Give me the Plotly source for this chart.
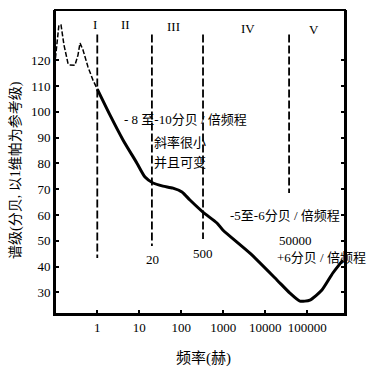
import plotly.graph_objects as go

# ---------------- data ----------------
curve_low_freq = [0.093, 0.110, 0.122, 0.137, 0.161, 0.200, 0.215, 0.294, 0.347, 0.388, 0.457, 0.601, 0.790, 1.0]
curve_low_db = [115.4, 125.9, 133.7, 133.7, 125.9, 118.9, 118.2, 118.1, 122.0, 126.7, 124.0, 117.4, 112.3, 108.8]

curve_main_freq = [1.0, 2.0, 4.1, 8.8, 13.7, 21.2, 36.7, 63.4, 104, 161, 329, 708, 977,
                   4325, 19000, 38700, 67000, 116000, 224000, 408000, 708000]
curve_main_db = [108.8, 98.8, 89.1, 80.1, 74.7, 72.4, 71.2, 70.4, 68.9, 65.8, 61.1, 56.9, 54.2,
                 45.2, 34.8, 29.7, 26.6, 27.0, 30.9, 37.5, 42.5]

boundary_freq = [1, 20, 330, 37000]
boundary_top_db = [130, 130, 130, 130]
boundary_bottom_db = [43.3, 48.0, 50.7, 68.5]
boundary_labels = ["", "20", "500", "50000"]

region_labels = ["I", "II", "III", "IV", "V"]

x_tick_vals = [1, 10, 100, 1000, 10000, 100000]
x_tick_text = ["1", "10", "100", "1000", "10000", "100000"]
y_tick_vals = [30, 40, 50, 60, 70, 80, 90, 100, 110, 120]
y_tick_text = ["30", "40", "50", "60", "70", "80", "90", "100", "110", "120"]

x_title = "频率(赫)"
y_title = "谱级(分贝, 以1维帕为参考级)"
slope_texts = ["- 8 至-10分贝 / 倍频程", "斜率很小", "并且可变", "-5至-6分贝 / 倍频程", "+6分贝 / 倍频程"]

# ---------------- layout geometry ----------------
W, H = 372, 372
L, R, T, B = 55, 345, 10, 314

def px(x):
    return (x - L) / (R - L)

def py(y):
    return (B - y) / (B - T)

SERIF = "Liberation Serif, DejaVu Serif, Noto Sans CJK SC, serif"

fig = go.Figure()

# vertical dashed boundaries
for f, top, bot in zip(boundary_freq, boundary_top_db, boundary_bottom_db):
    fig.add_trace(go.Scatter(x=[f, f], y=[top, bot], mode="lines",
                             line=dict(color="black", width=1.8, dash="8px,3px"),
                             hoverinfo="skip", showlegend=False))

# low-frequency dashed part of the curve
fig.add_trace(go.Scatter(x=curve_low_freq, y=curve_low_db, mode="lines",
                         line=dict(color="black", width=1.5, dash="5px,2px"),
                         hoverinfo="skip", showlegend=False))

# main solid curve
fig.add_trace(go.Scatter(x=curve_main_freq, y=curve_main_db, mode="lines",
                         line=dict(color="black", width=3, shape="spline", smoothing=0.6),
                         hoverinfo="skip", showlegend=False))

ann = []

def add_text(text, x, y, size=13, xanchor="center", angle=0):
    ann.append(dict(text=text, x=px(x), y=py(y), xref="paper", yref="paper",
                    xanchor=xanchor, yanchor="middle", textangle=angle,
                    showarrow=False, font=dict(family=SERIF, size=size, color="black")))

# region numerals
region_pos = [(95, 25), (125, 25), (173, 26), (248, 28), (314, 30)]
for lab, (x, y) in zip(region_labels, region_pos):
    add_text(lab, x, y)

# boundary labels
blab_pos = [None, (152, 259), (203, 254), (295, 240)]
for lab, pos in zip(boundary_labels, blab_pos):
    if pos and lab:
        add_text(lab, pos[0], pos[1])

# slope texts
slope_pos = [(122, 120), (152, 142), (152, 162), (228, 215), (275, 257)]
for t, (x, y) in zip(slope_texts, slope_pos):
    add_text(t, x, y, xanchor="left")

# axis titles
add_text(x_title, 203, 358, size=15)
add_text(y_title, 15, 170, size=14, angle=-90)

fig.update_layout(
    width=W, height=H,
    margin=dict(l=L, r=W - R, t=T, b=H - B),
    paper_bgcolor="white", plot_bgcolor="white",
    annotations=ann,
    shapes=[dict(type="rect", xref="paper", yref="paper", x0=0, x1=1, y0=0, y1=1,
                 layer="above", line=dict(color="black", width=2))],
    xaxis=dict(type="log", range=[-1.007, 5.9], tickvals=x_tick_vals, ticktext=x_tick_text,
               ticks="inside", ticklen=4, tickwidth=1.5, tickcolor="black",
               showline=True, linecolor="black", linewidth=2,
               showgrid=False, zeroline=False,
               tickfont=dict(family=SERIF, size=13, color="black")),
    yaxis=dict(range=[21.6, 139.5], tickvals=y_tick_vals, ticktext=y_tick_text,
               ticks="inside", ticklen=4, tickwidth=1.5, tickcolor="black",
               showline=True, linecolor="black", linewidth=2, mirror="ticks",
               showgrid=False, zeroline=False,
               tickfont=dict(family=SERIF, size=13, color="black")),
)

fig.write_html("out.html", config={"displayModeBar": False},
               post_script="document.body.style.margin='0';document.body.style.overflow='hidden';")
